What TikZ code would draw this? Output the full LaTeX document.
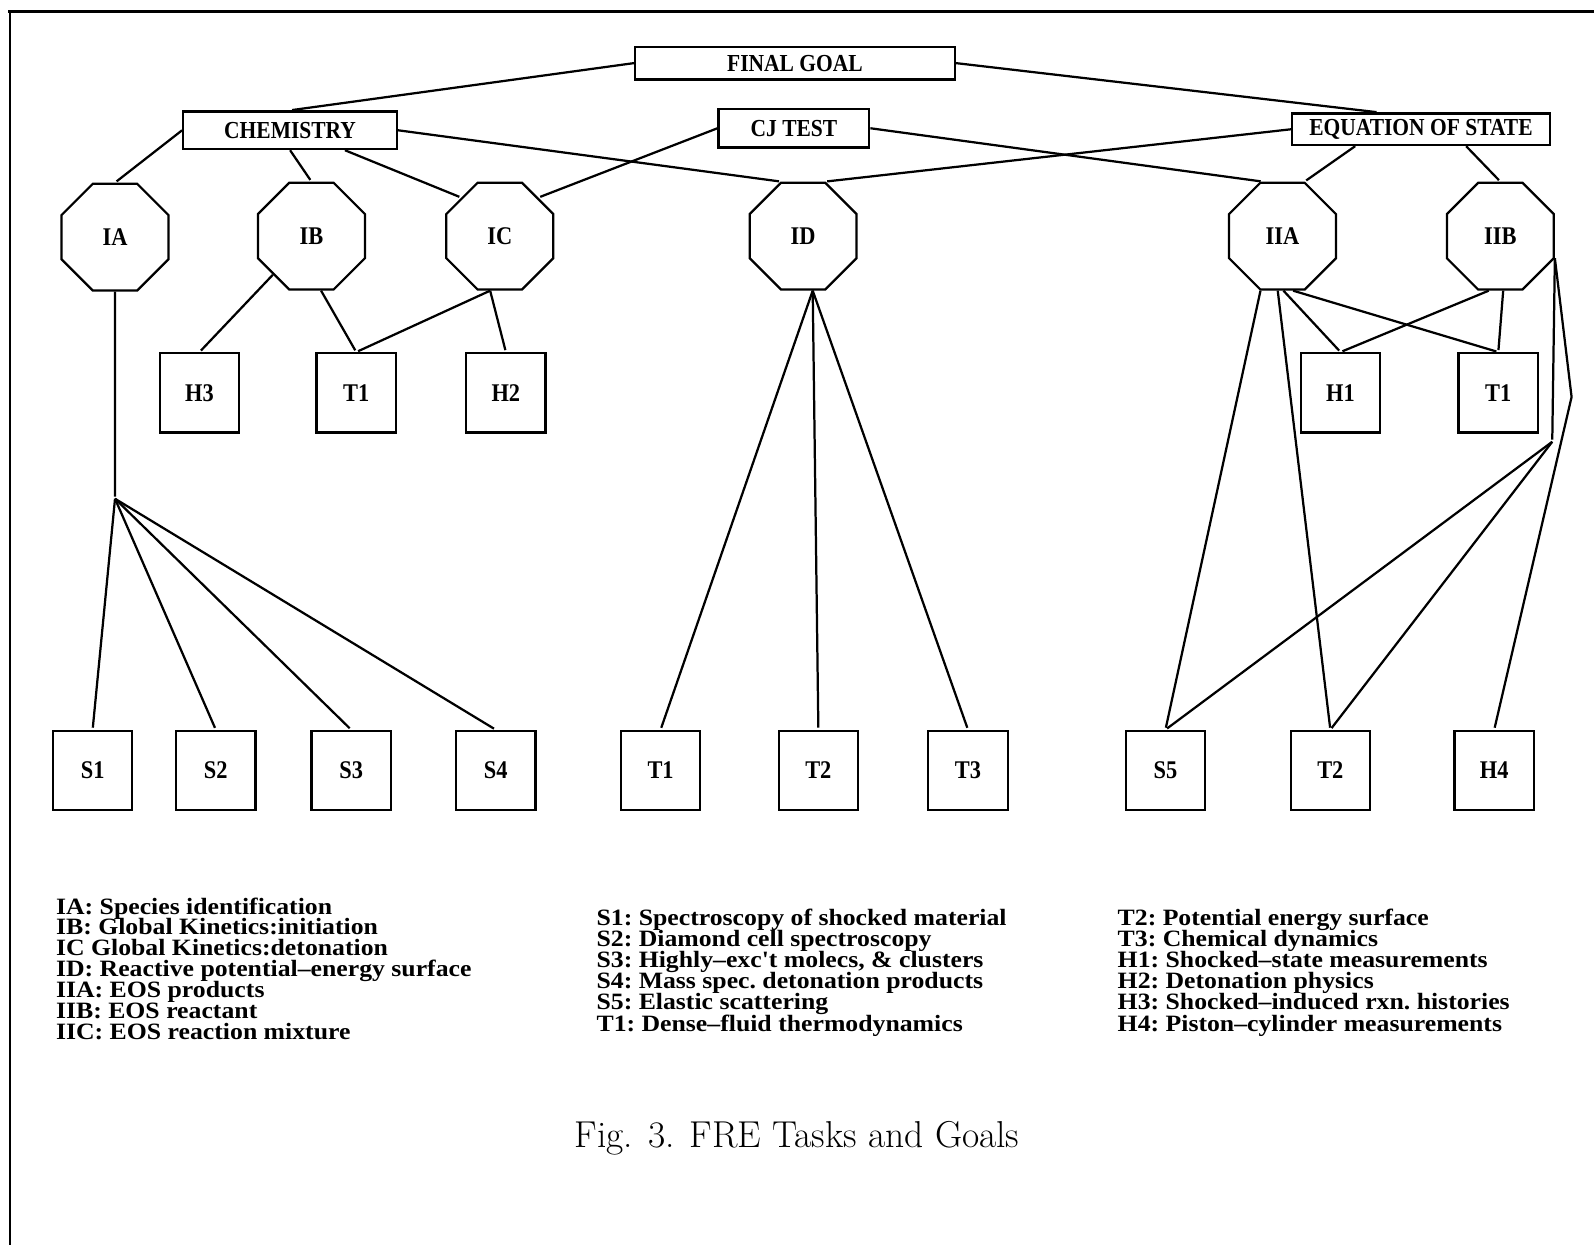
\documentclass[tikz,border=0pt]{standalone}
\usepackage{fontspec}
\usepackage{tikz}
\usetikzlibrary{shapes.geometric}
\newfontfamily\nodefont[FakeStretch=0.88]{Liberation Serif}
\newfontfamily\legendfont[FakeStretch=1.1]{Liberation Serif}

\begin{document}
\begin{tikzpicture}[x=0.5pt,y=-0.5pt,shorten >=1pt,line width=1.1pt,
  goal node/.style={rectangle,draw,inner sep=0pt,font=\nodefont\bfseries\fontsize{12}{14}\selectfont},
  task node/.style={regular polygon,regular polygon sides=8,draw,inner sep=0pt,minimum size=56.8pt,
    font=\nodefont\bfseries\fontsize{12.5}{14}\selectfont},
  item node/.style={rectangle,draw,inner sep=0pt,minimum size=39pt,
    font=\nodefont\bfseries\fontsize{12.5}{14}\selectfont},
  legend text/.style={anchor=base west,inner sep=0pt,
    font=\legendfont\bfseries\frenchspacing\fontsize{11.5}{13}\selectfont}]
  \useasboundingbox (0,0) rectangle (1568,1225);
  \draw[line width=1.6pt] (8,11) -- (1568,11);
  \draw[line width=0.7pt] (10,11) -- (10,1225);

  \node[goal node,minimum width=157pt,minimum height=16pt] (final) at (781,62) {FINAL GOAL};
  \node[goal node,minimum width=105pt,minimum height=18.5pt] (chem) at (285,128) {CHEMISTRY};
  \node[goal node,minimum width=74pt,minimum height=19pt] (cj) at (780,126) {CJ TEST};
  \node[goal node,minimum width=126.5pt,minimum height=15.5pt] (eos) at (1396,127) {EQUATION OF STATE};

  \node[task node] (IA) at (113,233) {IA};
  \node[task node] (IB) at (306,232) {IB};
  \node[task node] (IC) at (491,232) {IC};
  \node[task node] (ID) at (789,232) {ID};
  \node[task node] (IIA) at (1260,232) {IIA};
  \node[task node] (IIB) at (1474,232) {IIB};

  \node[item node] (H3) at (196,386) {H3};
  \node[item node] (T1a) at (350,386) {T1};
  \node[item node] (H2) at (497,386) {H2};
  \node[item node] (H1) at (1317,386) {H1};
  \node[item node] (T1c) at (1472,386) {T1};

  \node[item node] (S1) at (91,757) {S1};
  \node[item node] (S2) at (212,757) {S2};
  \node[item node] (S3) at (345,757) {S3};
  \node[item node] (S4) at (487,757) {S4};
  \node[item node] (T1b) at (649,757) {T1};
  \node[item node] (T2b) at (804,757) {T2};
  \node[item node] (T3b) at (951,757) {T3};
  \node[item node] (S5) at (1145,757) {S5};
  \node[item node] (T2c) at (1307,757) {T2};
  \node[item node] (H4) at (1468,757) {H4};

  \coordinate (jA) at (113,490);
  \coordinate (jB) at (1525,434);
  \coordinate (kB) at (1544,390);

  \path
    (final.west) edge (chem.north)
    (final.east) edge ([xshift=43pt]eos.north west)
    (chem.west) edge (IA.north)
    (chem.south) edge (IB.north)
    (chem.-20) edge (IC.135)
    (chem.east) edge (ID.112)
    (cj.west) edge (IC.45)
    (cj.east) edge (IIA.110)
    (eos.west) edge (ID.68)
    ([xshift=31.5pt]eos.south west) edge (IIA.68)
    ([xshift=86pt]eos.south west) edge (IIB.north);
  \path
    (IA.south) edge (jA)
    (jA) edge (S1.north)
         edge (S2.north)
         edge (S3.north)
         edge (S4.north)
    (IB.225) edge (H3.north)
    (IB.280) edge (T1a.north)
    (IC.260) edge (T1a.north)
             edge (H2.north)
    (ID.280) edge (T1b.north)
             edge (T2b.north)
             edge (T3b.north)
    (IIA.248) edge (S5.north)
    (IIA.265) edge (T2c.north)
    (IIA.271) edge (H1.north)
    (IIA.281) edge (T1c.north)
    (IIB.258) edge (H1.north)
    (IIB.273) edge (T1c.north)
    (IIB.-22) edge (jB)
    (jB) edge (S5.north)
         edge (T2c.north);
  \draw (IIB.-22) -- (kB) -- (H4.north);

  \foreach \txt [count=\i] in {IA: Species identification,
      IB: Global Kinetics:initiation,
      IC Global Kinetics:detonation,
      ID: Reactive potential\textendash energy surface,
      IIA: EOS products,
      IIB: EOS reactant,
      IIC: EOS reaction mixture}
    \node[legend text] (la\i) at (54,{898+20.5*(\i-1)}) {\txt};
  \foreach \txt [count=\i] in {S1: Spectroscopy of shocked material,
      S2: Diamond cell spectroscopy,
      {S3: Highly\textendash exc't molecs, \& clusters},
      S4: Mass spec. detonation products,
      S5: Elastic scattering,
      T1: Dense\textendash fluid thermodynamics}
    \node[legend text] (lb\i) at (585,{909+20.8*(\i-1)}) {\txt};
  \foreach \txt [count=\i] in {T2: Potential energy surface,
      T3: Chemical dynamics,
      H1: Shocked\textendash state measurements,
      H2: Detonation physics,
      H3: Shocked\textendash induced rxn. histories,
      H4: Piston\textendash cylinder measurements}
    \node[legend text] (lc\i) at (1097,{909+20.8*(\i-1)}) {\txt};

  \node (caption) at (783,1118) {\fontsize{18.4}{22}\selectfont Fig. 3. FRE Tasks and Goals};
\end{tikzpicture}
\end{document}
